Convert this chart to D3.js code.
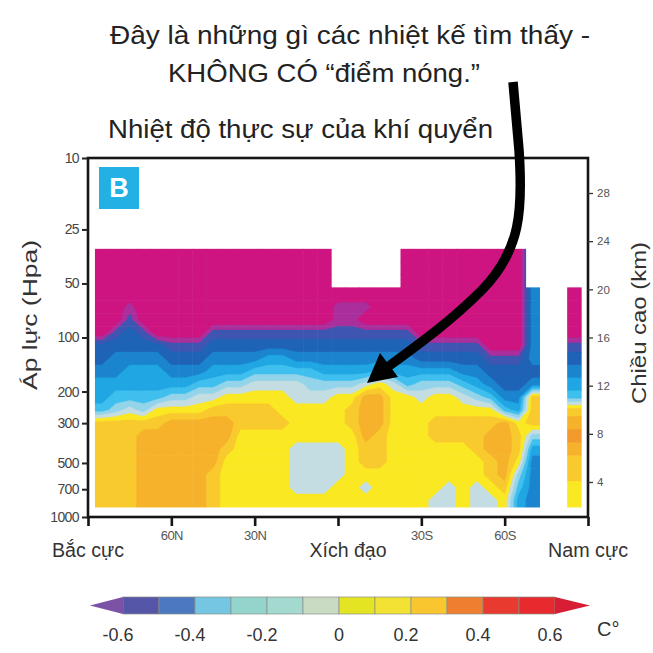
<!DOCTYPE html>
<html>
<head>
<meta charset="utf-8">
<script src="https://cdn.jsdelivr.net/npm/d3@7"></script>
<style>
  body { margin: 0; background: #fff; }
  text { font-family: "Liberation Sans Narrow", "Liberation Sans", Arial, sans-serif; }
</style>
</head>
<body>
<script>
// ---- data ----
// latitude of each column (deg, + north), pressure level of each row (hPa, top to bottom)
const lats = [85, 80, 75, 70, 65, 60, 55, 50, 45, 40, 35, 30, 25, 20, 15, 10, 5, 0,
  -5, -10, -15, -20, -25, -30, -35, -40, -45, -50, -55, -60, -65, -70, -75, -80, -85];
const levels = [34.8, 41.0, 48.4, 57.1, 67.4, 79.6, 93.9, 110.8, 130.8, 154.3,
  182.1, 214.9, 253.6, 299.2, 353.1, 416.7, 491.7, 580.3, 684.8, 808.2];

const M = -0.9, N = null;
// temperature trend (C) per latitude column, from top level to bottom level
const trend = [
  [M,M,M,M,M,M,M,-0.55,-0.55,-0.45,-0.35,-0.35,-0.25,0.15,0.15,0.15,0.15,0.15,0.15,0.15],
  [M,M,M,M,M,M,-0.65,-0.55,-0.45,-0.45,-0.35,-0.25,-0.15,0.15,0.15,0.15,0.15,0.15,0.15,0.15],
  [M,M,M,M,-0.75,-0.65,-0.55,-0.55,-0.45,-0.35,-0.35,-0.25,-0.05,0.15,0.15,0.15,0.15,0.15,0.15,0.15],
  [M,M,M,M,M,M,-0.65,-0.55,-0.45,-0.35,-0.35,-0.25,-0.15,0.15,0.25,0.25,0.25,0.25,0.25,0.25],
  [M,M,M,M,M,M,M,-0.55,-0.45,-0.35,-0.35,-0.25,0.05,0.15,0.25,0.25,0.25,0.25,0.25,0.25],
  [M,M,M,M,M,M,M,-0.65,-0.55,-0.45,-0.35,-0.15,0.05,0.25,0.25,0.25,0.25,0.25,0.25,0.25],
  [M,M,M,M,M,M,M,-0.65,-0.55,-0.45,-0.35,-0.15,0.05,0.25,0.25,0.25,0.25,0.25,0.25,0.25],
  [M,M,M,M,M,M,M,-0.65,-0.55,-0.45,-0.25,-0.05,0.05,0.25,0.25,0.25,0.25,0.25,0.25,0.25],
  [M,M,M,M,M,M,-0.65,-0.55,-0.45,-0.35,-0.25,-0.05,0.15,0.25,0.25,0.25,0.25,0.15,0.15,0.15],
  [M,M,M,M,M,M,-0.65,-0.55,-0.45,-0.35,-0.15,0.05,0.15,0.25,0.25,0.15,0.05,0.05,0.05,0.05],
  [M,M,M,M,M,M,-0.65,-0.55,-0.45,-0.35,-0.15,0.05,0.15,0.15,0.05,0.05,0.05,0.05,0.05,0.05],
  [M,M,M,M,M,M,-0.65,-0.55,-0.45,-0.25,-0.05,0.05,0.15,0.15,0.05,0.05,0.05,0.05,0.05,0.05],
  [M,M,M,M,M,M,-0.65,-0.55,-0.35,-0.25,-0.05,0.05,0.15,0.15,0.05,0.05,0.05,0.05,0.05,0.05],
  [M,M,M,M,M,M,-0.65,-0.55,-0.35,-0.25,-0.05,0.05,0.05,0.15,0.05,0.05,0.05,0.05,0.05,0.05],
  [M,M,M,M,M,M,-0.65,-0.55,-0.45,-0.25,-0.05,-0.05,0.05,0.05,0.05,-0.05,-0.05,-0.05,-0.05,0.05],
  [M,M,M,M,M,M,-0.65,-0.55,-0.45,-0.25,-0.15,-0.05,0.05,0.05,0.05,-0.05,-0.05,-0.05,-0.05,0.05],
  [M,M,M,M,M,M,-0.65,-0.55,-0.45,-0.35,-0.15,-0.05,0.05,0.05,0.05,-0.05,-0.05,-0.05,-0.05,0.05],
  [N,N,N,M,-0.75,-0.75,-0.65,-0.55,-0.45,-0.35,-0.15,0.05,0.05,0.05,0.05,-0.05,-0.05,-0.05,0.05,0.05],
  [N,N,N,M,-0.75,-0.75,-0.65,-0.55,-0.45,-0.35,-0.15,0.05,0.15,0.15,0.05,0.05,0.05,0.05,0.05,0.05],
  [N,N,N,M,-0.75,M,-0.65,-0.55,-0.45,-0.35,-0.05,0.25,0.25,0.25,0.25,0.15,0.15,0.05,-0.05,0.05],
  [N,N,N,M,M,M,-0.65,-0.55,-0.45,-0.25,0.05,0.25,0.25,0.25,0.15,0.15,0.15,0.05,0.05,0.05],
  [N,N,N,M,M,M,-0.65,-0.55,-0.45,-0.35,-0.05,0.05,0.05,0.05,0.05,0.05,0.05,0.05,0.05,0.05],
  [M,M,M,M,M,M,-0.65,-0.55,-0.45,-0.35,-0.25,0.05,0.05,0.05,0.05,0.05,0.05,0.05,0.05,0.05],
  [M,M,M,M,M,M,M,-0.65,-0.55,-0.35,-0.15,-0.05,0.05,0.05,0.05,0.05,0.05,0.05,0.05,0.05],
  [M,M,M,M,M,M,M,-0.65,-0.55,-0.35,-0.15,0.05,0.05,0.15,0.15,0.05,0.05,0.05,0.05,-0.05],
  [M,M,M,M,M,M,M,-0.65,-0.55,-0.35,-0.15,0.05,0.05,0.15,0.15,0.05,0.05,0.05,-0.05,-0.05],
  [M,M,M,M,M,M,M,-0.65,-0.55,-0.45,-0.25,-0.05,0.05,0.15,0.15,0.05,0.05,0.05,0.05,0.05],
  [M,M,M,M,M,M,M,-0.65,-0.55,-0.45,-0.35,-0.15,0.05,0.15,0.15,0.15,0.05,0.05,-0.05,-0.05],
  [M,M,M,M,M,M,M,M,-0.65,-0.55,-0.45,-0.25,0.05,0.15,0.25,0.25,0.15,0.15,0.05,-0.05],
  [M,M,M,M,M,M,M,M,-0.65,-0.55,-0.55,-0.45,-0.25,0.25,0.25,0.25,0.25,0.25,0.15,0.05],
  [M,M,M,M,M,M,M,M,-0.65,-0.55,-0.55,-0.45,-0.35,0.05,0.15,0.15,0.05,-0.15,-0.25,-0.35],
  [N,N,N,-0.45,-0.45,-0.45,-0.45,-0.45,-0.45,-0.55,-0.45,0.15,0.15,0.15,-0.15,-0.35,-0.45,-0.45,-0.45,-0.45],
  [N,N,N,N,N,N,N,N,N,N,N,N,N,N,N,N,N,N,N,N],
  [N,N,N,N,N,N,N,N,N,N,N,N,N,N,N,N,N,N,N,N],
  [N,N,N,M,M,M,M,-0.65,-0.55,-0.45,-0.35,-0.25,0.15,0.25,0.35,0.25,0.15,0.15,0.05,0.05]
];

// colours used in the plot
const plotThresholds = [-0.8, -0.7, -0.6, -0.5, -0.4, -0.3, -0.2, -0.1, 0, 0.1, 0.2, 0.3];
const plotColors = ["#cd1481", "#aa2f9c", "#3e56b1", "#1f63b7", "#1b84ce", "#1fa6e3",
  "#3fbfee", "#94d4ea", "#c3dde2", "#fae822", "#f9ca2d", "#f6b22a", "#f29a2e"];

// colour bar
const legendEdges = [-0.6, -0.5, -0.4, -0.3, -0.2, -0.1, 0, 0.1, 0.2, 0.3, 0.4, 0.5, 0.6];
const legendColors = ["#5656a8", "#4b78c0", "#74c6e3", "#93d4cc", "#a3d9cf", "#c9dcc3",
  "#e4e422", "#f1e233", "#f9c630", "#ef7f2e", "#e83a2f", "#e62a2e"];
const legendLow = "#7b52a6", legendHigh = "#d81e34";
const legendTicks = [-0.6, -0.4, -0.2, 0, 0.2, 0.4, 0.6];

// axes
const pressTicks = [10, 25, 50, 100, 200, 300, 500, 700, 1000];
const heightTicks = [4, 8, 12, 16, 20, 24, 28];
const latTicks = [90, 60, 30, 0, -30, -60, -90];
const regionNames = ["Bắc cực", "Xích đạo", "Nam cực"];
const regionLats = [90, 0, -90];

// ---- chart ----
const svg = d3.select("body").append("svg")
  .attr("width", 653)
  .attr("height", 653);

const x = d3.scaleLinear().domain([90, -90]).range([88, 588]);
const y = d3.scaleLog().domain([10, 1000]).range([158, 517]);
const yKm = d3.scaleLinear().domain([4, 28]).range([482, 193]);
const color = d3.scaleThreshold().domain(plotThresholds).range(plotColors);

const n = lats.length, m = levels.length;

// cell edges in log pressure
const logs = levels.map(Math.log10);
const rowEdges = logs.map((l, j) => {
  const top = j === 0 ? l - (logs[1] - logs[0]) / 2 : (logs[j - 1] + l) / 2;
  const bot = j === m - 1 ? l + (l - logs[j - 1]) / 2 : (l + logs[j + 1]) / 2;
  return [y(Math.pow(10, top)), y(Math.pow(10, bot))];
});
const halfLat = Math.abs(lats[1] - lats[0]) / 2;

const cells = [];
lats.forEach((lat, i) => {
  trend[i].forEach((v, j) => {
    if (v === null) return;
    cells.push({
      v,
      x0: x(lat + halfLat), x1: x(lat - halfLat),
      y0: rowEdges[j][0], y1: rowEdges[j][1]
    });
  });
});

// filled contours over the grid; empty cells borrow a neighbour value and the
// grid gets a one-cell border copied from its edge, both hidden by the clip
function borrow(i, j) {
  if (trend[i][j] !== null) return trend[i][j];
  for (let k = j + 1; k < m; k++) if (trend[i][k] !== null) return trend[i][k];
  for (let d = 1; d < n; d++) {
    if (i - d >= 0 && trend[i - d][j] !== null) return trend[i - d][j];
    if (i + d < n && trend[i + d][j] !== null) return trend[i + d][j];
  }
  return 0;
}
const gw = n + 2, gh = m + 2;
const grid = [];
for (let jj = 0; jj < gh; jj++) {
  for (let ii = 0; ii < gw; ii++) {
    const i = Math.min(n - 1, Math.max(0, ii - 1));
    const j = Math.min(m - 1, Math.max(0, jj - 1));
    grid.push(borrow(i, j));
  }
}

// grid units -> pixels (columns even in latitude, rows even in log pressure)
const colW = (x(lats[n - 1] - halfLat) - x(lats[0] + halfLat)) / n;
const rowH = (rowEdges[m - 1][1] - rowEdges[0][0]) / m;
const gx = d3.scaleLinear().domain([0, gw])
  .range([x(lats[0] + halfLat) - colW, x(lats[n - 1] - halfLat) + colW]);
const gy = d3.scaleLinear().domain([0, gh])
  .range([rowEdges[0][0] - rowH, rowEdges[m - 1][1] + rowH]);
const gridPath = d3.geoPath(d3.geoTransform({
  point: function (px, py) { this.stream.point(gx(px), gy(py)); }
}));

const contours = d3.contours()
  .size([gw, gh])
  .thresholds(plotThresholds)(grid);

const defs = svg.append("defs");
defs.append("clipPath").attr("id", "dataClip")
  .selectAll("rect")
  .data(cells)
  .enter().append("rect")
  .attr("x", d => d.x0)
  .attr("y", d => d.y0)
  .attr("width", d => d.x1 - d.x0 + 0.6)
  .attr("height", d => d.y1 - d.y0 + 0.6);

const field = svg.append("g").attr("clip-path", "url(#dataClip)");
field.append("rect")
  .attr("x", gx(0)).attr("y", gy(0))
  .attr("width", gx(gw) - gx(0)).attr("height", gy(gh) - gy(0))
  .attr("fill", plotColors[0]);
field.selectAll("path")
  .data(contours)
  .enter().append("path")
  .attr("d", gridPath)
  .attr("fill", d => color(d.value))
  .attr("stroke", d => color(d.value))
  .attr("stroke-width", 0.4);

// frame
svg.append("rect")
  .attr("x", 88).attr("y", 158)
  .attr("width", 500).attr("height", 359)
  .attr("fill", "none")
  .attr("stroke", "#151515")
  .attr("stroke-width", 2.6);

// left axis (pressure)
const gL = svg.append("g")
  .attr("transform", "translate(88,0)")
  .call(d3.axisLeft(y).tickValues(pressTicks).tickFormat(d3.format("d")).tickSize(6).tickPadding(3));
gL.select(".domain").remove();
gL.selectAll("line").attr("stroke", "#222").attr("stroke-width", 2);
gL.selectAll("text").attr("font-size", 14).attr("fill", "#454545").attr("letter-spacing", -0.6);

// right axis (height)
const gR = svg.append("g")
  .attr("transform", "translate(588,0)")
  .call(d3.axisRight(yKm).tickValues(heightTicks).tickSize(5).tickPadding(4));
gR.select(".domain").remove();
gR.selectAll("line").attr("stroke", "#333").attr("stroke-width", 1.3);
gR.selectAll("text").attr("font-size", 11.5).attr("fill", "#555");

// bottom axis (latitude)
const latLabel = d => (d === 0 || Math.abs(d) === 90) ? "" : Math.abs(d) + (d > 0 ? "N" : "S");
const gB = svg.append("g")
  .attr("transform", "translate(0,517)")
  .call(d3.axisBottom(x).tickValues(latTicks).tickSize(9).tickPadding(5).tickFormat(latLabel));
gB.select(".domain").remove();
gB.selectAll("line").attr("stroke", "#151515").attr("stroke-width", 2.6);
gB.selectAll("text").attr("font-size", 13).attr("fill", "#555").attr("letter-spacing", -0.5);

svg.selectAll(".region")
  .data(regionNames)
  .enter().append("text")
  .attr("class", "region")
  .attr("x", (d, i) => x(regionLats[i]) + (regionLats[i] === 0 ? 10 : 0))
  .attr("y", 557)
  .attr("text-anchor", "middle")
  .attr("font-size", 20)
  .attr("fill", "#333")
  .attr("textLength", (d, i) => [72, 77, 80][i])
  .attr("lengthAdjust", "spacingAndGlyphs")
  .text(d => d);

// axis titles
svg.append("text")
  .attr("transform", "translate(30,315) rotate(-90)")
  .attr("text-anchor", "middle")
  .attr("dy", "0.35em")
  .attr("font-size", 20)
  .attr("fill", "#333")
  .attr("textLength", 150)
  .attr("lengthAdjust", "spacingAndGlyphs")
  .text("Áp lực (Hpa)");

svg.append("text")
  .attr("transform", "translate(639,323) rotate(-90)")
  .attr("text-anchor", "middle")
  .attr("dy", "0.35em")
  .attr("font-size", 20)
  .attr("fill", "#333")
  .attr("textLength", 162)
  .attr("lengthAdjust", "spacingAndGlyphs")
  .text("Chiều cao (km)");

// panel badge
svg.append("rect")
  .attr("x", 99).attr("y", 167)
  .attr("width", 40).attr("height", 42)
  .attr("fill", "#22b1e2");
svg.append("text")
  .attr("x", 119).attr("y", 197)
  .attr("text-anchor", "middle")
  .attr("font-size", 27)
  .attr("font-weight", "bold")
  .attr("fill", "#fff")
  .text("B");

// titles
const titles = [
  { t: "Đây là những gì các nhiệt kế tìm thấy -", x: 350, y: 44, w: 480, a: "middle" },
  { t: "KHÔNG CÓ “điểm nóng.”", x: 324, y: 82, w: 312, a: "middle" },
  { t: "Nhiệt độ thực sự của khí quyển", x: 108, y: 138, w: 385, a: "start" }
];
svg.selectAll(".title")
  .data(titles)
  .enter().append("text")
  .attr("class", "title")
  .attr("x", d => d.x)
  .attr("y", d => d.y)
  .attr("text-anchor", d => d.a)
  .attr("font-size", 25)
  .attr("fill", "#222")
  .attr("textLength", d => d.w)
  .attr("lengthAdjust", "spacingAndGlyphs")
  .text(d => d.t);

// arrow annotation
svg.append("path")
  .attr("d", "M513,82 L519,150 C523,210 521,250 482,290 C452,320 422,342 389,366")
  .attr("fill", "none")
  .attr("stroke", "#000")
  .attr("stroke-width", 9.5);
svg.append("path")
  .attr("d", "M367,383 L398,377 L380,353 Z")
  .attr("fill", "#000");

// colour bar
const lx = d3.scaleLinear().domain([-0.6, 0.6]).range([123, 555]);
const barTop = 597, barH = 17;
const bar = svg.append("g");
bar.selectAll("rect")
  .data(legendColors)
  .enter().append("rect")
  .attr("x", (d, i) => lx(legendEdges[i]))
  .attr("y", barTop)
  .attr("width", (d, i) => lx(legendEdges[i + 1]) - lx(legendEdges[i]))
  .attr("height", barH)
  .attr("fill", d => d)
  .attr("stroke", "#8a8f86")
  .attr("stroke-width", 0.7);
bar.append("path")
  .attr("d", `M${lx(-0.6)},${barTop} L${lx(-0.6) - 33},${barTop + barH / 2} L${lx(-0.6)},${barTop + barH} Z`)
  .attr("fill", legendLow);
bar.append("path")
  .attr("d", `M${lx(0.6)},${barTop} L${lx(0.6) + 35},${barTop + barH / 2} L${lx(0.6)},${barTop + barH} Z`)
  .attr("fill", legendHigh);
bar.selectAll(".lt")
  .data(legendTicks)
  .enter().append("text")
  .attr("class", "lt")
  .attr("x", d => lx(d) - (d === 0 ? 0 : 5))
  .attr("y", 641)
  .attr("text-anchor", "middle")
  .attr("font-size", 18)
  .attr("fill", "#333")
  .text(d => d);
svg.append("text")
  .attr("x", 597).attr("y", 636)
  .attr("font-size", 20)
  .attr("fill", "#333")
  .text("C°");
</script>
</body>
</html>
